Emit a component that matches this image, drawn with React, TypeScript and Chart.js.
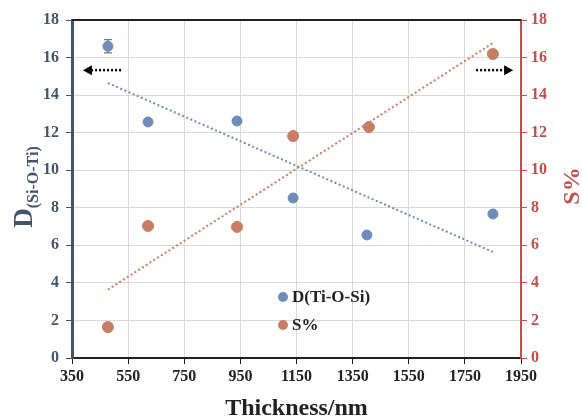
import React, { useEffect, useRef } from 'react';
import { Chart, registerables } from 'chart.js';
Chart.register(...registerables);

const thicknessD = [478, 621, 938, 1138, 1401, 1850];
const dValues = [16.6, 12.57, 12.62, 8.52, 6.55, 7.67];
const dErrors = [0.35, 0, 0, 0, 0, 0];
const thicknessS = [478, 621, 938, 1138, 1408, 1850];
const sValues = [1.65, 7.03, 6.98, 11.82, 12.3, 16.19];
const xTickValues = [350, 550, 750, 950, 1150, 1350, 1550, 1750, 1950];
const yTickValues = [0, 2, 4, 6, 8, 10, 12, 14, 16, 18];
const arrowLevel = 15.33;
const leftArrow = [525, 389];
const rightArrow = [1790, 1922];

const SERIF = '"Liberation Serif", "Times New Roman", serif';
const BLUE = '#6f8dba';
const ORANGE = '#c87e64';
const SLATE = '#44546A';
const RED = '#C0504D';

function trend(xs: number[], ys: number[]) {
  const n = xs.length;
  const mx = xs.reduce((a, b) => a + b, 0) / n;
  const my = ys.reduce((a, b) => a + b, 0) / n;
  let sxy = 0, sxx = 0;
  for (let i = 0; i < n; i++) {
    sxy += (xs[i] - mx) * (ys[i] - my);
    sxx += (xs[i] - mx) ** 2;
  }
  const k = sxy / sxx;
  const x0 = Math.min(...xs), x1 = Math.max(...xs);
  return [
    { x: x0, y: my + k * (x0 - mx) },
    { x: x1, y: my + k * (x1 - mx) },
  ];
}

const decorPlugin = {
  id: 'decor',
  beforeDatasetsDraw(chart: any) {
    const ctx = chart.ctx;
    const xs = chart.scales.x, ys = chart.scales.y;
    const area = chart.chartArea;
    ctx.save();
    ctx.strokeStyle = '#222';
    ctx.lineWidth = 2;
    ctx.beginPath();
    ctx.moveTo(area.left, area.top);
    ctx.lineTo(area.right, area.top);
    ctx.stroke();
    ctx.strokeStyle = '#555';
    ctx.lineWidth = 1;
    thicknessD.forEach((t, i) => {
      const e = dErrors[i];
      if (!e) return;
      const px = xs.getPixelForValue(t);
      const top = ys.getPixelForValue(dValues[i] + e);
      const bot = ys.getPixelForValue(dValues[i] - e);
      ctx.beginPath();
      ctx.moveTo(px, top); ctx.lineTo(px, bot);
      ctx.moveTo(px - 4, top); ctx.lineTo(px + 4, top);
      ctx.moveTo(px - 4, bot); ctx.lineTo(px + 4, bot);
      ctx.stroke();
    });
    ctx.restore();
  },
  afterDatasetsDraw(chart: any) {
    const ctx = chart.ctx;
    const xs = chart.scales.x, ys = chart.scales.y;
    ctx.save();
    const arrows = [leftArrow, rightArrow];
    const ay = ys.getPixelForValue(arrowLevel);
    arrows.forEach(([from, to]) => {
      const fx = xs.getPixelForValue(from);
      const tx = xs.getPixelForValue(to);
      const dir = Math.sign(tx - fx);
      ctx.strokeStyle = '#000';
      ctx.lineWidth = 2.5;
      ctx.setLineDash([2, 2]);
      ctx.beginPath();
      ctx.moveTo(fx, ay);
      ctx.lineTo(tx - dir * 8, ay);
      ctx.stroke();
      ctx.setLineDash([]);
      ctx.fillStyle = '#000';
      ctx.beginPath();
      ctx.moveTo(tx, ay);
      ctx.lineTo(tx - dir * 9, ay - 5);
      ctx.lineTo(tx - dir * 9, ay + 5);
      ctx.closePath();
      ctx.fill();
    });
    ctx.restore();
  },
  afterDraw(chart: any) {
    const ctx = chart.ctx;
    const area = chart.chartArea;
    ctx.save();
    ctx.fillStyle = SLATE;
    ctx.textBaseline = 'alphabetic';
    ctx.textAlign = 'left';
    const fD = `bold 27px ${SERIF}`;
    const fSub = `bold 16px ${SERIF}`;
    ctx.font = fD;
    const wD = ctx.measureText('D').width;
    ctx.font = fSub;
    const wS = ctx.measureText('(Si-O-Ti)').width;
    const total = wD + wS;
    ctx.translate(32, (area.top + area.bottom) / 2 - 2);
    ctx.rotate(-Math.PI / 2);
    ctx.font = fD;
    ctx.fillText('D', -total / 2, 0);
    ctx.font = fSub;
    ctx.fillText('(Si-O-Ti)', -total / 2 + wD, 6);
    ctx.restore();

    ctx.save();
    ctx.fillStyle = RED;
    ctx.font = `bold 24px ${SERIF}`;
    ctx.textAlign = 'center';
    ctx.textBaseline = 'alphabetic';
    ctx.translate(579, (area.top + area.bottom) / 2 - 3);
    ctx.rotate(-Math.PI / 2);
    ctx.fillText('S%', 0, 0);
    ctx.restore();

    ctx.save();
    ctx.fillStyle = '#222';
    ctx.font = `bold 24px ${SERIF}`;
    ctx.textAlign = 'center';
    ctx.textBaseline = 'alphabetic';
    ctx.fillText('Thickness/nm', (area.left + area.right) / 2, 415);
    ctx.restore();

    ctx.save();
    const items = [
      { label: 'D(Ti-O-Si)', color: BLUE, y: 297 },
      { label: 'S%', color: ORANGE, y: 325 },
    ];
    items.forEach((it) => {
      ctx.fillStyle = it.color;
      ctx.beginPath();
      ctx.arc(283, it.y, 5, 0, Math.PI * 2);
      ctx.fill();
      ctx.fillStyle = '#222';
      ctx.font = `bold 17px ${SERIF}`;
      ctx.textAlign = 'left';
      ctx.textBaseline = 'middle';
      ctx.fillText(it.label, 292, it.y + 1);
    });
    ctx.restore();
  },
};

export default function App() {
  const ref = useRef<HTMLCanvasElement>(null);
  useEffect(() => {
    document.body.style.margin = '0';
    const dPts = thicknessD.map((x, i) => ({ x, y: dValues[i] }));
    const sPts = thicknessS.map((x, i) => ({ x, y: sValues[i] }));
    const tickFont = { family: SERIF, size: 16, weight: 'bold' as const };
    const chart = new Chart(ref.current as HTMLCanvasElement, {
      type: 'scatter',
      data: {
        datasets: [
          {
            label: 'D trend',
            data: trend(thicknessD, dValues),
            type: 'line',
            showLine: true,
            borderColor: BLUE,
            borderWidth: 2,
            borderDash: [2, 2.5],
            pointRadius: 0,
            yAxisID: 'y',
          } as any,
          {
            label: 'S trend',
            data: trend(thicknessS, sValues),
            type: 'line',
            showLine: true,
            borderColor: ORANGE,
            borderWidth: 2,
            borderDash: [2, 2.5],
            pointRadius: 0,
            yAxisID: 'y1',
          } as any,
          {
            label: 'D(Ti-O-Si)',
            data: dPts,
            backgroundColor: BLUE,
            borderColor: BLUE,
            pointRadius: 5,
            yAxisID: 'y',
          },
          {
            label: 'S%',
            data: sPts,
            backgroundColor: ORANGE,
            borderColor: ORANGE,
            pointRadius: 5.5,
            yAxisID: 'y1',
          },
        ],
      },
      options: {
        responsive: false,
        animation: false,
        devicePixelRatio: 1,
        layout: { padding: { top: 20, left: 0, right: 0, bottom: 0 } },
        plugins: { legend: { display: false }, tooltip: { enabled: false } },
        scales: {
          x: {
            type: 'linear',
            min: 350,
            max: 1950,
            afterBuildTicks: (s: any) => { s.ticks = xTickValues.map((v) => ({ value: v })); },
            afterFit: (s: any) => { s.height = 60; },
            grid: { color: '#d9d9d9', lineWidth: 1, tickColor: '#222', tickLength: 6 },
            border: { color: '#222', width: 2 },
            ticks: { color: '#222', font: tickFont, padding: 3, maxRotation: 0, callback: (v: any) => String(v) },
          },
          y: {
            type: 'linear',
            position: 'left',
            min: 0,
            max: 18,
            afterBuildTicks: (s: any) => { s.ticks = yTickValues.map((v) => ({ value: v })); },
            afterFit: (s: any) => { s.width = 72; },
            grid: { color: '#d9d9d9', lineWidth: 1, tickColor: SLATE, tickLength: 6 },
            border: { color: SLATE, width: 3 },
            ticks: { color: SLATE, font: tickFont, padding: 7, callback: (v: any) => String(v) },
          },
          y1: {
            type: 'linear',
            position: 'right',
            min: 0,
            max: 18,
            afterBuildTicks: (s: any) => { s.ticks = yTickValues.map((v) => ({ value: v })); },
            afterFit: (s: any) => { s.width = 61; },
            grid: { drawOnChartArea: false, tickColor: RED, tickLength: 6 },
            border: { color: RED, width: 2 },
            ticks: { color: RED, font: tickFont, padding: 4, callback: (v: any) => String(v) },
          },
        },
      },
      plugins: [decorPlugin],
    });
    return () => chart.destroy();
  }, []);
  return (
    <div style={{ position: 'absolute', left: 0, top: 0, width: 582, height: 418, background: '#fff' }}>
      <canvas ref={ref} width={582} height={418} style={{ width: 582, height: 418 }} />
    </div>
  );
}
